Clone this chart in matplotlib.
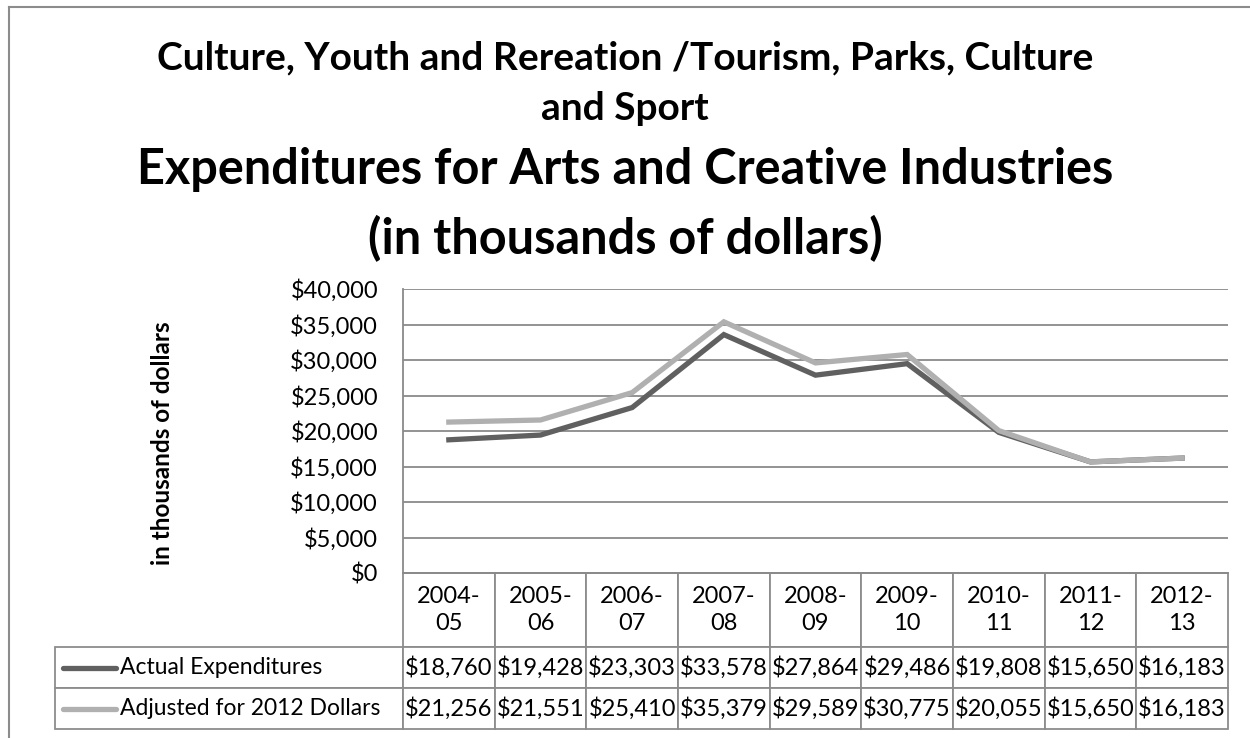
import matplotlib
matplotlib.use('Agg')
import matplotlib.pyplot as plt
from matplotlib.lines import Line2D
from matplotlib.table import Table


YEARS = ['2004-\n05', '2005-\n06', '2006-\n07', '2007-\n08', '2008-\n09',
         '2009-\n10', '2010-\n11', '2011-\n12', '2012-\n13']
ACTUAL = [18760, 19428, 23303, 33578, 27864, 29486, 19808, 15650, 16183]
ADJUSTED = [21256, 21551, 25410, 35379, 29589, 30775, 20055, 15650, 16183]
SERIES_NAMES = ['Actual Expenditures', 'Adjusted for 2012 Dollars']
Y_TICKS = [0, 5000, 10000, 15000, 20000, 25000, 30000, 35000, 40000]

DARK = '#606060'
LIGHT = '#b0b0b0'
GRID = '#8a8a8a'
FONT = 'Lato'
TXT = 17

W, H = 1250, 738


def px_x(x):
    return x / W


def px_y(y):
    return 1 - y / H


fig = plt.figure(figsize=(12.5, 7.38), dpi=100)
plt.rcParams['font.family'] = [FONT, 'DejaVu Sans']

# outer chart frame (top and left edges visible)
fig.add_artist(Line2D([px_x(9), px_x(9)], [px_y(7), -0.1], color='#8c8c8c', lw=1.5))
fig.add_artist(Line2D([px_x(9), 1.1], [px_y(7), px_y(7)], color='#8c8c8c', lw=1.5))

# titles
fig.text(0.5, px_y(58), 'Culture, Youth and Rereation /Tourism, Parks, Culture',
         ha='center', va='center', fontsize=28, fontweight='bold')
fig.text(0.5, px_y(109), 'and Sport', ha='center', va='center', fontsize=28, fontweight='bold')
fig.text(0.5, px_y(169), 'Expenditures for Arts and Creative Industries',
         ha='center', va='center', fontsize=35, fontweight='bold')
fig.text(0.5, px_y(239), '(in thousands of dollars)', ha='center', va='center',
         fontsize=35, fontweight='bold')

left, right, top, bottom = 403, 1228, 289, 573
ax = fig.add_axes([px_x(left), px_y(bottom), (right - left) / W, (bottom - top) / H])

x = list(range(len(YEARS)))
ax.plot(x, ACTUAL, color=DARK, lw=3.8, solid_joinstyle='miter', zorder=3)
ax.plot(x, ADJUSTED, color=LIGHT, lw=3.8, solid_joinstyle='miter', zorder=3)

ax.set_xlim(-0.5, len(YEARS) - 0.5)
ax.set_ylim(0, 40000)
ax.set_yticks(Y_TICKS)
ax.set_yticklabels([f'${v:,}' for v in Y_TICKS], fontsize=TXT)
ax.set_xticks([])
ax.tick_params(axis='y', length=0, pad=18)
ax.grid(axis='y', color=GRID, lw=1.3)
ax.set_axisbelow(True)
for side in ['top', 'right']:
    ax.spines[side].set_visible(False)
for side in ['left', 'bottom']:
    ax.spines[side].set_color(GRID)
    ax.spines[side].set_linewidth(1.3)

fig.text(px_x(163), px_y(443), 'in thousands of dollars', rotation=90,
         ha='center', va='center', fontsize=17.5, fontweight='bold')

# data table under the plot
tbl_left = 55
label_w = left - tbl_left
col_w = (right - left) / len(YEARS)
row_h = [74, 41, 41]
total_w = right - tbl_left
total_h = sum(row_h)

tbl = Table(ax, bbox=[(tbl_left - left) / (right - left), -total_h / (bottom - top),
                      total_w / (right - left), total_h / (bottom - top)])
rows = [YEARS,
        [f'${v:,}' for v in ACTUAL],
        [f'${v:,}' for v in ADJUSTED]]
for r, cells in enumerate(rows):
    c0 = tbl.add_cell(r, 0, width=label_w, height=row_h[r], text='')
    c0.set_edgecolor('#8c8c8c')
    c0.set_linewidth(1.3)
    if r == 0:
        c0.visible_edges = ''
    for c, txt in enumerate(cells):
        cell = tbl.add_cell(r, c + 1, width=col_w, height=row_h[r], text=txt, loc='center')
        cell.set_edgecolor('#8c8c8c')
        cell.set_linewidth(1.3)
        cell.PAD = 0.01
        cell.get_text().set_linespacing(1.3)
tbl.auto_set_font_size(False)
tbl.set_fontsize(TXT)
ax.add_table(tbl)

# row labels with legend keys
for r, (name, color) in enumerate(zip(SERIES_NAMES, [DARK, LIGHT])):
    yc = px_y(bottom + row_h[0] + row_h[1] * r + row_h[1] / 2)
    fig.add_artist(Line2D([px_x(63), px_x(116)], [yc, yc], color=color, lw=3.8,
                          solid_capstyle='round'))
    fig.text(px_x(120), yc, name, ha='left', va='center', fontsize=16.5)

fig.savefig('out.png', dpi=100)
